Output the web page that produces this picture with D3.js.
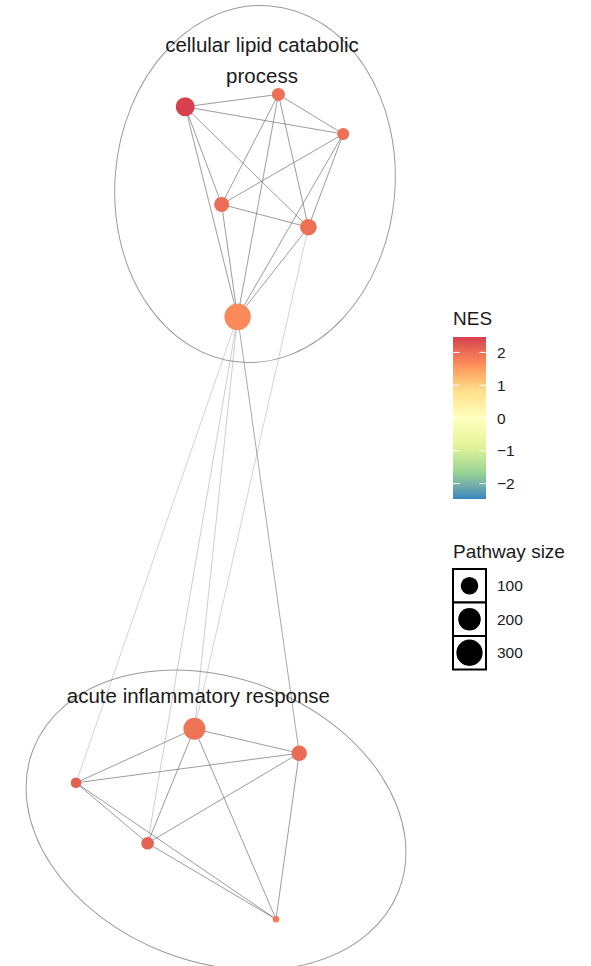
<!DOCTYPE html>
<html>
<head>
<meta charset="utf-8">
<script src="https://cdn.jsdelivr.net/npm/d3@7"></script>
<style>
  html, body { margin: 0; padding: 0; background: #fff; }
  svg { display: block; font-family: "Liberation Sans", Arial, sans-serif; }
</style>
</head>
<body>
<svg id="chart" width="591" height="966"></svg>
<script>
// ---- pathway network: nodes (layout coordinates in graph units) ----
const pathwayIds   = ["L1", "L2", "L3", "L4", "L5", "L6", "I1", "I2", "I3", "I4", "I5"];
const pathwayGroup = [0, 0, 0, 0, 0, 0, 1, 1, 1, 1, 1];
const layoutX      = [4.13, 6.46, 8.08, 5.04, 7.21, 5.44, 4.36, 6.98, 1.40, 3.19, 6.40];
const layoutY      = [21.48, 21.79, 20.80, 19.04, 18.47, 16.23, 5.93, 5.32, 4.58, 3.07, 1.17];
const nesValues    = [2.45, 1.97, 1.97, 2.0, 1.97, 1.68, 1.93, 2.02, 2.15, 2.12, 1.85];
const pathwaySize  = [125, 41, 32, 63, 85, 305, 188, 68, 22, 37, 10];

// ---- edges (index pairs into the node arrays) with overlap weight ----
const edgeSource = [0,0,0,0,0, 1,1,1,1, 2,2,2, 3,3, 4,   6,6,6,6, 7,7,7, 8,8, 9,   5,5,5,4,5];
const edgeTarget = [1,2,3,4,5, 2,3,4,5, 3,4,5, 4,5, 5,   7,8,9,10, 8,9,10, 9,10, 10, 8,9,6,6,7];
const edgeWeight = [0.8,0.8,0.8,0.8,0.8, 0.8,0.8,0.8,0.8, 0.8,0.8,0.8, 0.8,0.8, 0.8,
                    0.8,0.8,0.8,0.8, 0.8,0.8,0.8, 0.8,0.8, 0.8,
                    0.35,0.4,0.4,0.35,0.7];

// ---- cluster outlines (graph units) and their names ----
const clusterNames = ["cellular lipid catabolic process", "acute inflammatory response"];
const ellipseCx    = [5.875, 4.9];
const ellipseCy    = [19.55, 3.65];
const ellipseRx    = [3.5, 4.9];
const ellipseRy    = [4.47, 3.55];
const ellipseAngle = [5, 21];
const labelX       = [6.05, 4.46];
const labelY       = [22.84, 6.575];

// ---- legend breaks ----
const nesLimits  = [-2.47, 2.47];
const nesTicks   = [-2, -1, 0, 1, 2];
const sizeLimits = [10, 310];
const sizeBreaks = [100, 200, 300];
const spectral   = ["#3288BD", "#99D594", "#E6F598", "#FFFFBF", "#FEE08B", "#FC8D59", "#D53E4F"];

const svg = d3.select("#chart");

// graph-unit → pixel scales (equal pixels per unit on both axes)
const x = d3.scaleLinear().domain([0, 10]).range([20, 420]);
const y = d3.scaleLinear().domain([0, 24.15]).range([966, 0]);
const unit = x(1) - x(0);

// NES colour: spectral palette interpolated in Lab space
const colour = d3.scaleLinear()
  .domain(d3.range(spectral.length).map(i => nesLimits[0] + i * (nesLimits[1] - nesLimits[0]) / (spectral.length - 1)))
  .range(spectral)
  .interpolate(d3.interpolateLab)
  .clamp(true);

// pathway size → radius (area-style: sqrt of rescaled size)
const sizeNorm = d3.scaleLinear().domain(sizeLimits).range([0, 1]).clamp(true);
const radius = d3.scaleSqrt().domain([0, 1]).range([3.3, 13.3]);
const r = v => radius(sizeNorm(v));

const nodes = pathwayIds.map((id, i) => ({
  id, group: pathwayGroup[i], lx: layoutX[i], ly: layoutY[i], nes: nesValues[i], size: pathwaySize[i]
}));
const edges = edgeSource.map((s, i) => ({ s: nodes[s], t: nodes[edgeTarget[i]], w: edgeWeight[i] }));

// cluster ellipses
const clusters = clusterNames.map((name, i) => ({
  name, cx: ellipseCx[i], cy: ellipseCy[i], rx: ellipseRx[i], ry: ellipseRy[i], a: ellipseAngle[i],
  lx: labelX[i], ly: labelY[i]
}));

svg.append("g").selectAll("ellipse")
  .data(clusters).join("ellipse")
  .attr("transform", d => `translate(${x(d.cx)},${y(d.cy)}) rotate(${d.a})`)
  .attr("rx", d => d.rx * unit)
  .attr("ry", d => d.ry * unit)
  .attr("fill", "none")
  .attr("stroke", "#9a9a9a")
  .attr("stroke-width", 1);

// edges
svg.append("g").selectAll("line")
  .data(edges).join("line")
  .attr("x1", d => x(d.s.lx)).attr("y1", d => y(d.s.ly))
  .attr("x2", d => x(d.t.lx)).attr("y2", d => y(d.t.ly))
  .attr("stroke", "#6e6e6e")
  .attr("stroke-opacity", d => d.w * 0.95)
  .attr("stroke-width", 0.9);

// nodes
svg.append("g").selectAll("circle")
  .data(nodes).join("circle")
  .attr("cx", d => x(d.lx)).attr("cy", d => y(d.ly))
  .attr("r", d => r(d.size))
  .attr("fill", d => colour(d.nes));

// cluster labels, wrapped at 28 characters
function wrap(text, maxChars) {
  const words = text.split(" "), lines = [];
  let cur = "";
  words.forEach(w => {
    const next = cur ? cur + " " + w : w;
    if (next.length > maxChars && cur) { lines.push(cur); cur = w; } else cur = next;
  });
  if (cur) lines.push(cur);
  return lines;
}
const labels = svg.append("g").selectAll("text")
  .data(clusters).join("text")
  .attr("x", d => x(d.lx)).attr("y", d => y(d.ly))
  .attr("text-anchor", "middle")
  .attr("font-size", 20.5)
  .attr("fill", "#1a1a1a");
labels.each(function(d) {
  d3.select(this).selectAll("tspan")
    .data(wrap(d.name, 28)).join("tspan")
    .attr("x", x(d.lx))
    .attr("dy", (t, i) => i === 0 ? 0 : 30.5)
    .text(t => t);
});

// ---- NES colour bar legend ----
const cbX = 453, cbW = 33, cbTop = 337, cbBottom = 499;
const cbY = d3.scaleLinear().domain(nesLimits).range([cbBottom, cbTop]);
const legend = svg.append("g");
legend.append("text").attr("x", 453).attr("y", 325).attr("font-size", 19).attr("fill", "#1a1a1a").text("NES");

const defs = svg.append("defs");
const grad = defs.append("linearGradient").attr("id", "nesGrad")
  .attr("x1", 0).attr("y1", 1).attr("x2", 0).attr("y2", 0);
grad.selectAll("stop").data(d3.range(0, 1.0001, 0.02)).join("stop")
  .attr("offset", t => t)
  .attr("stop-color", t => colour(nesLimits[0] + t * (nesLimits[1] - nesLimits[0])));
legend.append("rect").attr("x", cbX).attr("y", cbTop).attr("width", cbW).attr("height", cbBottom - cbTop)
  .attr("fill", "url(#nesGrad)");
const tickG = legend.append("g").selectAll("g").data(nesTicks).join("g");
tickG.append("line").attr("x1", cbX).attr("x2", cbX + cbW / 5)
  .attr("y1", d => cbY(d)).attr("y2", d => cbY(d)).attr("stroke", "#fff").attr("stroke-width", 1);
tickG.append("line").attr("x1", cbX + cbW - cbW / 5).attr("x2", cbX + cbW)
  .attr("y1", d => cbY(d)).attr("y2", d => cbY(d)).attr("stroke", "#fff").attr("stroke-width", 1);
tickG.append("text").attr("x", 497).attr("y", d => cbY(d)).attr("dy", "0.36em")
  .attr("font-size", 15.5).attr("fill", "#1a1a1a")
  .text(d => d < 0 ? "\u2212" + Math.abs(d) : d);

// ---- pathway size legend ----
legend.append("text").attr("x", 453).attr("y", 558).attr("font-size", 19).attr("fill", "#1a1a1a").text("Pathway size");
const keyTop = 569, keyH = 33.5, keyX = 453, keyW = 33;
const keys = legend.append("g").selectAll("g").data(sizeBreaks).join("g")
  .attr("transform", (d, i) => `translate(${keyX},${keyTop + i * keyH})`);
keys.append("rect").attr("width", keyW).attr("height", keyH)
  .attr("fill", "#fff").attr("stroke", "#000").attr("stroke-width", 2);
keys.append("circle").attr("cx", keyW / 2).attr("cy", keyH / 2).attr("r", d => r(d)).attr("fill", "#000");
keys.append("text").attr("x", 497 - keyX).attr("y", keyH / 2).attr("dy", "0.36em")
  .attr("font-size", 15.5).attr("fill", "#1a1a1a").text(d => d);
</script>
</body>
</html>
